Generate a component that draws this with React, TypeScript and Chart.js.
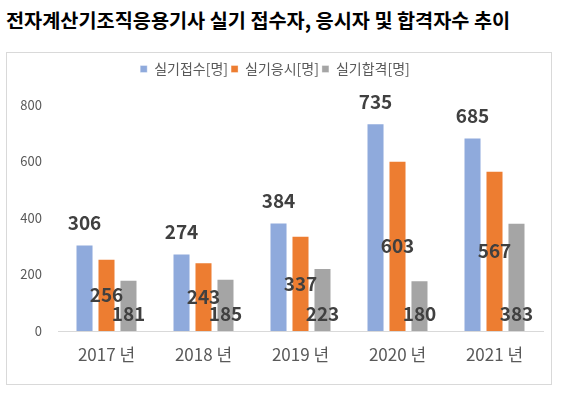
import React, { useEffect, useRef } from "react";
import { Chart, registerables } from "chart.js";

Chart.register(...registerables);

const titleText = "전자계산기조직응용기사 실기 접수자, 응시자 및 합격자수 추이";
const categories = ["2017 년", "2018 년", "2019 년", "2020 년", "2021 년"];
const seriesNames = ["실기접수[명]", "실기응시[명]", "실기합격[명]"];
const applied = [306, 274, 384, 735, 685];
const tested = [256, 243, 337, 603, 567];
const passed = [181, 185, 223, 180, 383];
const colors = ["#8FAADC", "#ED7D31", "#A5A5A5"];
const yTicks = [0, 200, 400, 600, 800];

const FONT = "'Noto Sans CJK KR', 'Noto Sans', sans-serif";

const labelPlugin = {
  id: "barLabels",
  afterDatasetsDraw(chart: any) {
    const ctx = chart.ctx;
    ctx.save();
    ctx.font = `bold 19px ${FONT}`;
    ctx.fillStyle = "#404040";
    ctx.textAlign = "center";
    ctx.textBaseline = "middle";
    chart.data.datasets.forEach((ds: any, i: number) => {
      const meta = chart.getDatasetMeta(i);
      meta.data.forEach((bar: any, j: number) => {
        const p = bar.getProps(["x", "y", "base"], true);
        let ty: number;
        if (i === 0) ty = p.y - 22;
        else if (i === 1) ty = (p.y + p.base) / 2;
        else ty = p.base - 17;
        ctx.fillText(String(ds.data[j]), p.x, ty);
      });
    });
    ctx.restore();
  },
};

const legendSpace = {
  id: "legendSpace",
  beforeInit(chart: any) {
    const legend = chart.legend;
    if (!legend) return;
    const fit = legend.fit;
    legend.fit = function () {
      fit.bind(legend)();
      this.height = 46;
    };
  },
};

export default function App() {
  const ref = useRef<HTMLCanvasElement | null>(null);
  useEffect(() => {
    if (!ref.current) return;
    const all = [applied, tested, passed];
    const chart = new Chart(ref.current, {
      type: "bar",
      data: {
        labels: categories,
        datasets: all.map((d, i) => ({
          label: seriesNames[i],
          data: d,
          backgroundColor: colors[i],
          borderColor: "rgba(255,255,255,0.35)",
          borderWidth: 1,
          categoryPercentage: 0.68,
          barPercentage: 0.82,
        })),
      },
      options: {
        responsive: false,
        animation: false,
        layout: { padding: { left: 0, right: 8, top: 6, bottom: 0 } },
        plugins: {
          legend: {
            display: true,
            position: "top",
            labels: {
              boxWidth: 7,
              boxHeight: 7,
              padding: 3,
              color: "#595959",
              font: { size: 14, family: FONT },
            },
          },
          title: { display: false },
          tooltip: { enabled: false },
        },
        scales: {
          x: {
            grid: { display: false, drawTicks: false },
            border: { display: true, color: "#D9D9D9" },
            ticks: {
              color: "#595959",
              font: { size: 17, family: FONT },
              padding: 13,
            },
            afterFit: (s: any) => {
              s.height = 53;
            },
          },
          y: {
            min: 0,
            max: 800,
            afterBuildTicks: (s: any) => {
              s.ticks = yTicks.map((v) => ({ value: v }));
            },
            afterFit: (s: any) => {
              s.width = 51;
            },
            grid: { display: false, drawTicks: false },
            border: { display: false },
            ticks: {
              color: "#595959",
              font: { size: 13, family: FONT },
              padding: 16,
            },
          },
        },
      },
      plugins: [labelPlugin, legendSpace],
    });
    return () => chart.destroy();
  }, []);

  return (
    <div
      style={{
        position: "absolute",
        left: 0,
        top: 0,
        width: 571,
        height: 399,
        background: "#fff",
        overflow: "hidden",
      }}
    >
      <div
        style={{
          position: "absolute",
          left: 6,
          top: 7,
          fontFamily: FONT,
          fontWeight: 700,
          fontSize: 19.7,
          lineHeight: "26px",
          color: "#000",
          whiteSpace: "nowrap",
        }}
      >
        {titleText}
      </div>
      <div
        style={{
          position: "absolute",
          left: 6,
          top: 52,
          width: 544,
          height: 331,
          border: "1px solid #D9D9D9",
        }}
      >
        <canvas ref={ref} width={544} height={331} style={{ display: "block" }} />
      </div>
    </div>
  );
}
